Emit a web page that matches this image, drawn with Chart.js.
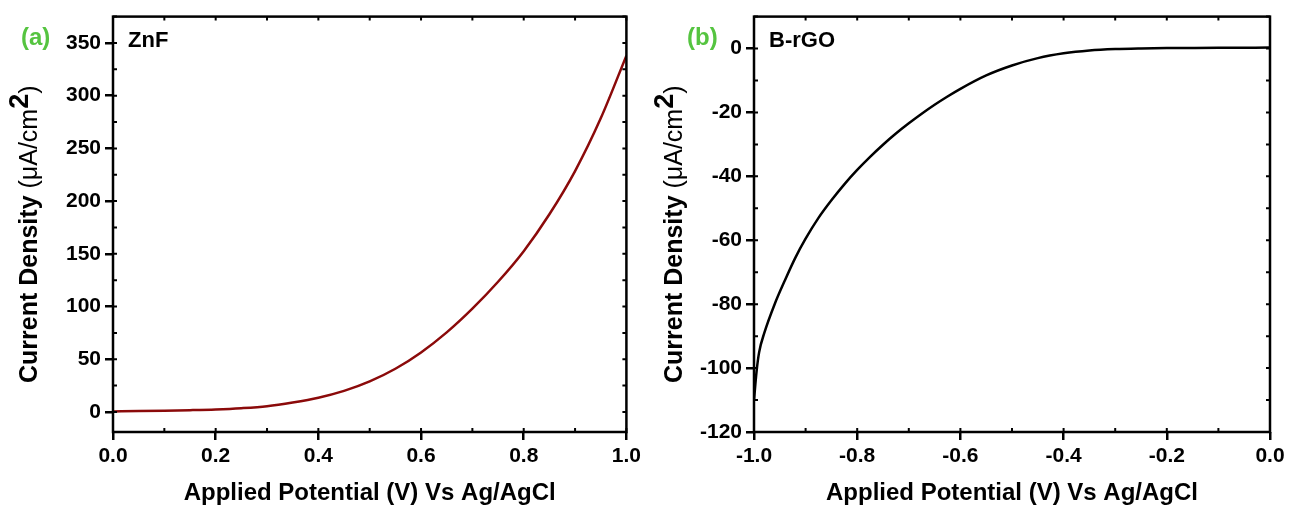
<!DOCTYPE html>
<html>
<head>
<meta charset="utf-8">
<script src="https://cdn.jsdelivr.net/npm/chart.js@4.4.0/dist/chart.umd.min.js"></script>
<style>
  html, body { margin: 0; padding: 0; background: #fff; overflow: hidden; }
  .wrap { display: flex; width: 1290px; height: 507px; }
  .panel { position: relative; width: 645px; height: 507px; }
</style>
</head>
<body>
<div class="wrap">
  <div class="panel"><canvas id="chart-a"></canvas></div>
  <div class="panel"><canvas id="chart-b"></canvas></div>
</div>
<script>
// panel (a) ZnF
const potentialA = [0.00, 0.05, 0.10, 0.15, 0.20, 0.25, 0.30, 0.35, 0.40, 0.45, 0.50,
  0.55, 0.60, 0.65, 0.70, 0.75, 0.80, 0.85, 0.90, 0.95, 1.00];
const currentA = [0.5, 0.8, 1.2, 1.7, 2.4, 3.6, 5.5, 9, 13.5, 20, 29,
  41, 56.5, 75.5, 98, 123.5, 152.5, 187.5, 228.5, 278.5, 338];
const xTicksA = [0, 0.2, 0.4, 0.6, 0.8, 1.0];
const yTicksA = [0, 50, 100, 150, 200, 250, 300, 350];

// panel (b) B-rGO
const potentialB = [-1.00, -0.995, -0.99, -0.98, -0.96, -0.94, -0.92, -0.90, -0.875, -0.85,
  -0.825, -0.80, -0.775, -0.75, -0.725, -0.70, -0.675, -0.65, -0.625, -0.60,
  -0.55, -0.50, -0.45, -0.40, -0.35, -0.30, -0.25, -0.20, -0.15, -0.10, -0.05, 0.00];
const currentB = [-110, -101, -95, -89, -80, -72.5, -65.5, -59.5, -53, -47.5,
  -42.5, -38, -33.9, -30.1, -26.6, -23.4, -20.4, -17.6, -15, -12.6,
  -8.4, -5.3, -3.0, -1.5, -0.6, -0.15, 0.05, 0.15, 0.2, 0.25, 0.28, 0.3];
const xTicksB = [-1.0, -0.8, -0.6, -0.4, -0.2, 0.0];
const yTicksB = [-120, -100, -80, -60, -40, -20, 0];

const xTitle = "Applied Potential (V) Vs Ag/AgCl";
const yTitleRuns = [
  ["Current Density ", "bold 25px", 0],
  ["(\u03bcA/cm", "25px", 0],
  ["2", "bold 27px", -9],
  [")", "25px", 0],
];

const FONT = '"Liberation Sans", Arial, sans-serif';
const GREEN = "#55c440";

// frame, minor ticks, mirror ticks and the text around the plot
const decor = {
  id: "decor",
  afterDraw(chart, args, o) {
    const { ctx, chartArea: a, scales: { x, y } } = chart;
    ctx.save();
    ctx.strokeStyle = "#000";
    ctx.lineWidth = 2.5;
    ctx.strokeRect(a.left, a.top, a.right - a.left, a.bottom - a.top);

    ctx.lineWidth = 2;
    ctx.beginPath();
    const inTick = 4;
    for (let v = o.xMin; v <= o.xMax + 1e-9; v += o.xStep / 2) {
      const px = x.getPixelForValue(v);
      ctx.moveTo(px, a.bottom); ctx.lineTo(px, a.bottom - inTick);
      ctx.moveTo(px, a.top); ctx.lineTo(px, a.top + inTick);
    }
    for (let v = o.yFirst; v <= o.yLast + 1e-9; v += o.yStep / 2) {
      const py = y.getPixelForValue(v);
      ctx.moveTo(a.left, py); ctx.lineTo(a.left + inTick, py);
      ctx.moveTo(a.right, py); ctx.lineTo(a.right - inTick, py);
    }
    ctx.stroke();

    ctx.fillStyle = "#000";
    ctx.font = "bold 24px " + FONT;
    ctx.textAlign = "center";
    ctx.textBaseline = "alphabetic";
    ctx.fillText(xTitle, (a.left + a.right) / 2, 500);

    // y title, rotated
    ctx.save();
    ctx.translate(37, 383);
    ctx.rotate(-Math.PI / 2);
    ctx.textAlign = "left";
    let cx = 0;
    for (const [t, f, dy] of yTitleRuns) {
      ctx.font = f + " " + FONT;
      ctx.fillText(t, cx, dy);
      cx += ctx.measureText(t).width;
    }
    ctx.restore();

    // panel letter and sample name
    ctx.textAlign = "left";
    ctx.font = "bold 24px " + FONT;
    ctx.fillStyle = GREEN;
    ctx.fillText(o.letter, o.letterX, 45);
    ctx.font = "bold 22px " + FONT;
    ctx.fillStyle = "#000";
    ctx.fillText(o.name, a.left + 15, 47);
    ctx.restore();
  }
};

function fixedTicks(values) {
  return (scale) => { scale.ticks = values.map(v => ({ value: v })); };
}

function makeChart(id, xs, ys, color, cfg) {
  const points = xs.map((v, i) => ({ x: v, y: ys[i] }));
  return new Chart(document.getElementById(id), {
    type: "line",
    data: {
      datasets: [{
        data: points,
        borderColor: color,
        borderWidth: 2.5,
        pointRadius: 0,
        cubicInterpolationMode: "monotone",
        fill: false,
      }],
    },
    options: {
      responsive: true,
      maintainAspectRatio: false,
      animation: false,
      layout: { padding: { top: 13, right: cfg.padRight, left: 0, bottom: 0 } },
      plugins: {
        legend: { display: false },
        tooltip: { enabled: false },
        decor: cfg.decor,
      },
      scales: {
        x: {
          type: "linear",
          min: cfg.xMin,
          max: cfg.xMax,
          afterBuildTicks: fixedTicks(cfg.xTicks),
          afterFit: (s) => { s.height = 75; },
          ticks: {
            color: "#000",
            padding: 4,
            font: { family: FONT, size: 21, weight: "bold" },
            callback: (v) => Number(v).toFixed(1),
            maxRotation: 0,
            autoSkip: false,
          },
          grid: { display: true, drawOnChartArea: false, drawTicks: true, tickLength: 8, color: "#000", lineWidth: 2.5 },
          border: { display: false },
        },
        y: {
          type: "linear",
          min: cfg.yMin,
          max: cfg.yMax,
          afterBuildTicks: fixedTicks(cfg.yTicks),
          afterFit: (s) => { s.width = cfg.yWidth; },
          ticks: {
            color: "#000",
            padding: 4,
            font: { family: FONT, size: 21, weight: "bold" },
            autoSkip: false,
          },
          grid: { display: true, drawOnChartArea: false, drawTicks: true, tickLength: 8, color: "#000", lineWidth: 2.5 },
          border: { display: false },
        },
      },
    },
    plugins: [decor],
  });
}

makeChart("chart-a", potentialA, currentA, "#8b0a0a", {
  xMin: 0, xMax: 1, xTicks: xTicksA,
  yMin: -19, yMax: 375, yTicks: yTicksA,
  yWidth: 113, padRight: 15,
  decor: { xMin: 0, xMax: 1, xStep: 0.2, yFirst: 0, yLast: 375, yStep: 50, letter: "(a)", letterX: 21, name: "ZnF" },
});

makeChart("chart-b", potentialB, currentB, "#000000", {
  xMin: -1, xMax: 0, xTicks: xTicksB,
  yMin: -120, yMax: 10, yTicks: yTicksB,
  yWidth: 109, padRight: 20,
  decor: { xMin: -1, xMax: 0, xStep: 0.2, yFirst: -120, yLast: 10, yStep: 20, letter: "(b)", letterX: 42, name: "B-rGO" },
});
</script>
</body>
</html>
